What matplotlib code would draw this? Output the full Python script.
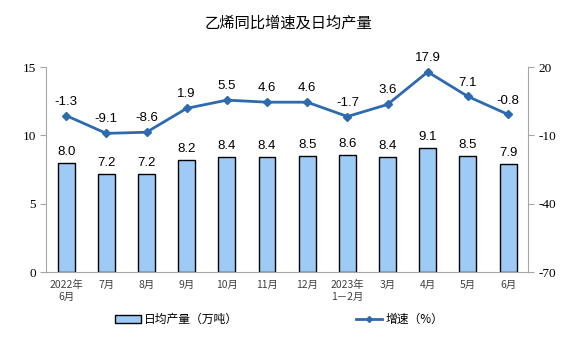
import numpy as np
import matplotlib.pyplot as plt
from matplotlib.patches import Patch
from matplotlib.lines import Line2D

plt.rcParams['font.family'] = ['Noto Sans CJK SC', 'DejaVu Sans']

months = ["2022年\n6月", "7月", "8月", "9月", "10月", "11月", "12月",
          "2023年\n1－2月", "3月", "4月", "5月", "6月"]
output = [8.0, 7.2, 7.2, 8.2, 8.4, 8.4, 8.5, 8.6, 8.4, 9.1, 8.5, 7.9]
growth = [-1.3, -9.1, -8.6, 1.9, 5.5, 4.6, 4.6, -1.7, 3.6, 17.9, 7.1, -0.8]
left_ticks = [0, 5, 10, 15]
right_ticks = [-70, -40, -10, 20]

bar_color = '#9DCBF5'
line_color = '#2D6AAF'
gray = '#A6A6A6'

fig = plt.figure(figsize=(5.76, 3.57), dpi=100)
ax = fig.add_axes([0.08, 0.238, 0.837, 0.574])
x = np.arange(len(months))

ax.bar(x, output, width=0.42, color=bar_color, edgecolor='black', linewidth=1.0, zorder=2)
for xi, v in zip(x, output):
    ax.text(xi, v + 0.35, f"{v:.1f}", ha='center', va='bottom', fontsize=9.5,
            family='Liberation Sans')
ax.set_xlim(-0.5, len(months) - 0.5)
ax.set_ylim(0, 15)
ax.set_xticks(x)
ax.set_xticklabels(months, fontsize=7.5, color='#404040', linespacing=1.2)

ax2 = ax.twinx()
ax2.plot(x, growth, color=line_color, lw=2, marker='D', ms=4, zorder=3)
for xi, v in zip(x, growth):
    ax2.text(xi, v + 3.5, f"{v:.1f}", ha='center', va='bottom', fontsize=9.5,
             family='Liberation Sans')
ax2.set_ylim(-70, 20)

for a in (ax, ax2):
    for s in a.spines.values():
        s.set_visible(False)
    a.tick_params(axis='y', colors=gray, labelcolor='black', length=4, labelsize=9.5)
ax.spines['left'].set_visible(True)
ax.spines['left'].set_color(gray)
ax.spines['bottom'].set_visible(True)
ax.spines['bottom'].set_color(gray)
ax2.spines['right'].set_visible(True)
ax2.spines['right'].set_color(gray)
ax.tick_params(axis='x', length=0, pad=6)

ax.set_yticks(left_ticks, [str(t) for t in left_ticks])
ax2.set_yticks(right_ticks, [str(t) for t in right_ticks])

fig.text(0.5, 0.935, "乙烯同比增速及日均产量", ha='center', va='center', fontsize=11)

handles = [Patch(facecolor=bar_color, edgecolor='black', linewidth=1.0),
           Line2D([0], [0], color=line_color, lw=2, marker='D', ms=3)]
labels = ["日均产量（万吨）", "增速（%）"]
fig.legend(handles, labels, loc='center', bbox_to_anchor=(0.485, 0.105), ncol=2,
           frameon=False, fontsize=8.5, columnspacing=10, handlelength=2.2,
           handleheight=0.6, handletextpad=0.3)

# serif numbers on the value axes, as in the source chart
fig.canvas.draw()
for a in (ax, ax2):
    for lbl in a.get_yticklabels(which='both'):
        lbl.set_fontfamily(['Liberation Serif', 'DejaVu Serif'])
    for t in a.yaxis.get_major_ticks():
        t.label1.set_fontfamily(['Liberation Serif', 'DejaVu Serif'])
        t.label2.set_fontfamily(['Liberation Serif', 'DejaVu Serif'])

fig.savefig("out.png", dpi=100)
